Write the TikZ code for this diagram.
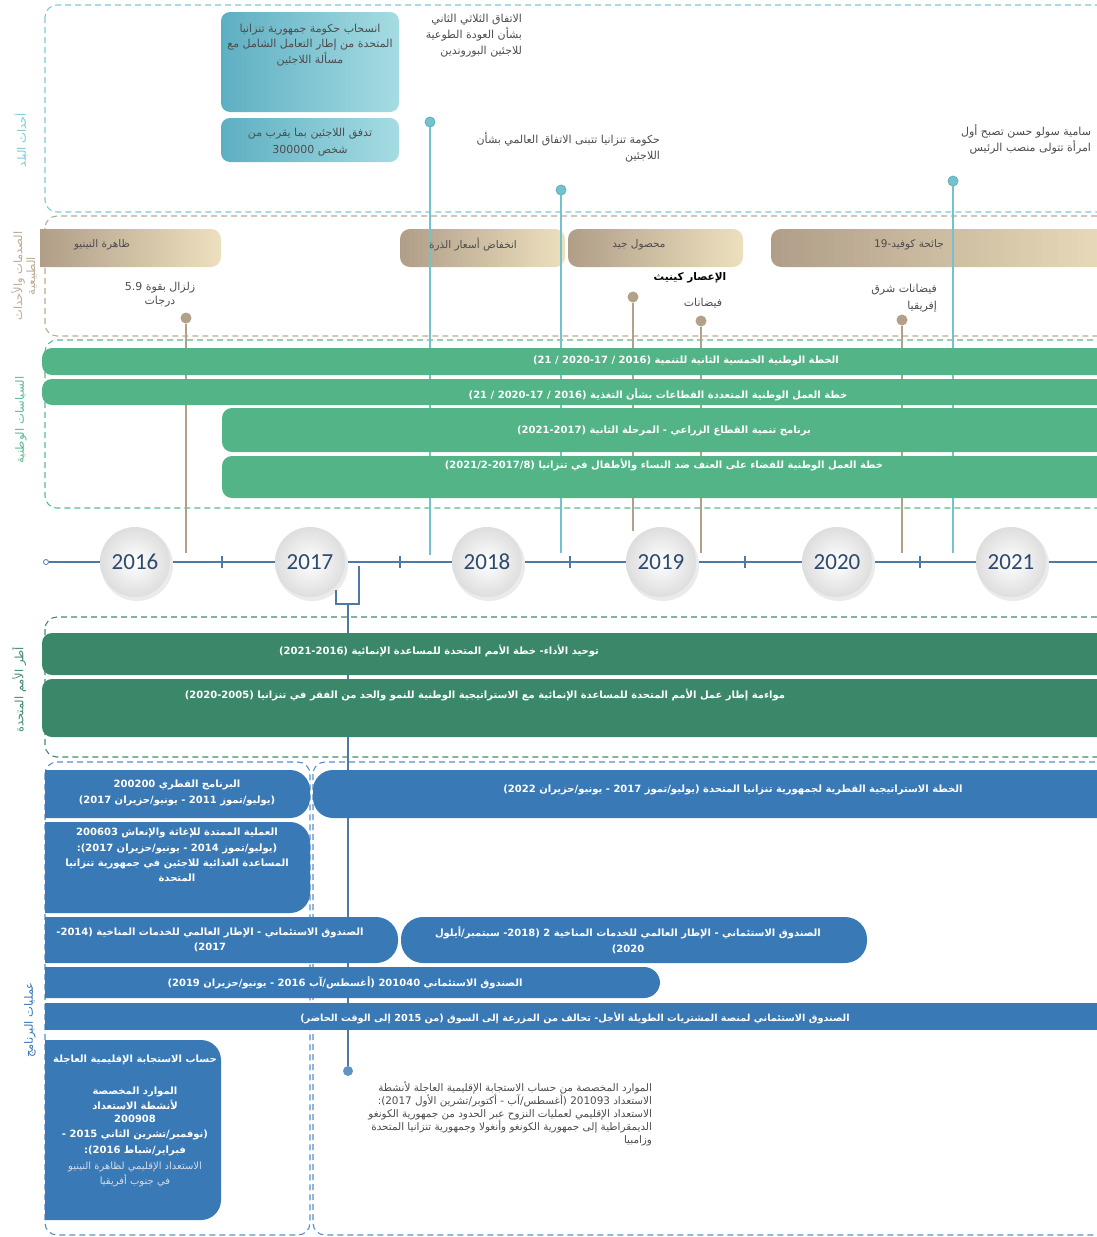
\documentclass[tikz,border=0pt]{standalone}
\usepackage{fontspec}
\TeXXeTstate=1
\newfontfamily\arf[Script=Arabic]{DejaVu Sans}
\newfontfamily\laf{DejaVu Sans}
\newfontfamily\yrf{Carlito}
\newcommand\AR[1]{{\arf\beginR #1\endR}}
\newcommand\LR[1]{\beginL{\laf #1}\endL{}}
\definecolor{tealF}{HTML}{7DCAD4}
\definecolor{tealL}{HTML}{74C2CE}
\definecolor{tealD}{HTML}{5FAEBF}
\definecolor{tealBoxL}{HTML}{5DAFC2}
\definecolor{tealBoxR}{HTML}{A6DCE3}
\definecolor{brF}{HTML}{BBAA95}
\definecolor{brL}{HTML}{B3A089}
\definecolor{brBarL}{HTML}{B09E88}
\definecolor{brBarR}{HTML}{EDE0BE}
\definecolor{grF}{HTML}{5CBB8E}
\definecolor{grB}{HTML}{52B487}
\definecolor{unF}{HTML}{3F8D6D}
\definecolor{unB}{HTML}{3B876A}
\definecolor{blF}{HTML}{5A8EC2}
\definecolor{blB}{HTML}{3979B6}
\definecolor{tl}{HTML}{4F79A4}
\definecolor{yr}{HTML}{2E4A6C}
\definecolor{txg}{HTML}{4D4D4D}
\definecolor{hlt}{HTML}{D3DCEA}
\tikzset{
  frame/.style={dashed, dash pattern=on 6pt off 4pt, line width=1.1pt, rounded corners=12pt},
  side/.style={rotate=90, font=\fontsize{11.5}{13}\selectfont, align=center},
  evt/.style={text=txg, font=\fontsize{11}{16}\selectfont},
  bartxt/.style={text=white, font=\bfseries\fontsize{10}{13}\selectfont},
  boxtxt/.style={text=white, font=\bfseries\fontsize{10}{15.5}\selectfont, align=center},
  shocktxt/.style={text=txg, font=\fontsize{10.5}{13}\selectfont},
  yearc/.style={circle, minimum size=70pt, inner color=white, outer color=black!13, text=yr, font=\yrf\fontsize{23}{23}\selectfont},
  tdot/.style={circle, minimum size=10pt, fill=tealL, draw=tealD, line width=0.8pt},
  bdot/.style={circle, minimum size=11pt, fill=brL},
  bludot/.style={circle, minimum size=10pt, fill=blB!80},
  vt/.style={tealL, line width=1.2pt},
  vb/.style={brL, line width=1.2pt},
  every node/.style={inner sep=0pt, outer sep=0pt}
}
\begin{document}
\begin{tikzpicture}[x=1pt,y=-1pt]
\useasboundingbox (0,0) rectangle (1097,1237);
\clip (0,0) rectangle (1097,1237);
\fill[white] (0,0) rectangle (1097,1237);

% ---------- frames ----------
\draw[frame, tealF] (45,5) rectangle (1125,212);
\draw[frame, brF] (45,216) rectangle (1125,336);
\draw[frame, grF] (45,340) rectangle (1125,508);
\draw[frame, unF] (45,617) rectangle (1125,757);
\draw[frame, blF] (45,762) rectangle (310,1235);
\draw[frame, blF] (313,762) rectangle (1125,1235);

% ---------- side labels ----------
\node[side, text=tealF] (lab1) at (21,140) {\AR{أحداث البلد}};
\node[side, text=brF] (lab2) at (24,276) {\AR{الصدمات والأحداث}\\\AR{الطبيعية}};
\node[side, text=grF] (lab3) at (21,420) {\AR{السياسات الوطنية}};
\node[side, text=unF] (lab4) at (19,690) {\AR{أطر الأمم المتحدة}};
\node[side, text=blB] (lab5) at (30,1020) {\AR{عمليات البرنامج}};

% ---------- country events ----------
\shade[left color=tealBoxL, right color=tealBoxR, rounded corners=9pt] (221,12) rectangle (399,112);
\shade[left color=tealBoxL, right color=tealBoxR, rounded corners=9pt] (221,118) rectangle (399,162);
\node[evt, align=center, font=\fontsize{11}{15.5}\selectfont] (t1) at (310,45) {\AR{انسحاب حكومة جمهورية تنزانيا}\\\AR{المتحدة من إطار التعامل الشامل مع}\\\AR{مسألة اللاجئين}};
\node[evt, align=center, font=\fontsize{11}{17}\selectfont] (t2) at (310,142) {\AR{تدفق اللاجئين بما يقرب من}\\\AR{شخص 300000}};
\node[evt, align=right, anchor=east] (e1) at (522,36) {\AR{الاتفاق الثلاثي الثاني}\\\AR{بشأن العودة الطوعية}\\\AR{للاجئين البوروندين}};
\node[evt, align=right, anchor=east] (e2) at (660,147) {\AR{حكومة تنزانيا تتبنى الاتفاق العالمي بشأن}\\\AR{اللاجئين}};
\node[evt, align=right, anchor=east] (e3) at (1091,139) {\AR{سامية سولو حسن تصبح أول}\\\AR{امرأة تتولى منصب الرئيس}};

% ---------- shocks bars ----------
\shade[left color=brBarL, right color=brBarR] (40,229) -- (190,229) [rounded corners=10pt] -- (221,229) -- (221,267) -- (190,267) [sharp corners] -- (40,267) -- cycle;
\shade[left color=brBarL, right color=brBarR, rounded corners=10pt] (400,229) rectangle (565,267);
\shade[left color=brBarL, right color=brBarR, rounded corners=10pt] (568,229) rectangle (743,267);
\shade[left color=brBarL, right color=brBarR, rounded corners=10pt] (771,229) rectangle (1140,267);

% ---------- coordinates on the timeline ----------
\coordinate (c186) at (186,553);
\coordinate (c430) at (430,555);
\coordinate (c561) at (561,553);
\coordinate (c633) at (633,531);
\coordinate (c701) at (701,553);
\coordinate (c902) at (902,553);
\coordinate (c953) at (953,553);

% ---------- event dots and stems ----------
\node[tdot] (d430) at (430,122) {};
\node[tdot] (d561) at (561,190) {};
\node[tdot] (d953) at (953,181) {};
\node[bdot] (d186) at (186,318) {};
\node[bdot] (d633) at (633,297) {};
\node[bdot] (d701) at (701,321) {};
\node[bdot] (d902) at (902,320) {};
\draw[vt] (d430) -- (c430);
\draw[vt] (d561) -- (c561);
\draw[vt] (d953) -- (c953);
\draw[vb] (d186) -- (c186);
\draw[vb] (d633) -- (c633);
\draw[vb] (d701) -- (c701);
\draw[vb] (d902) -- (c902);

% shock texts
\node[shocktxt] (s1) at (102,245) {\AR{ظاهرة النينيو}};
\node[shocktxt] (s2) at (473,245) {\AR{انخفاض أسعار الذرة}};
\node[shocktxt] (s3) at (639,245) {\AR{محصول جيد}};
\node[shocktxt] (s4) at (909,245) {\AR{جائحة كوفيد-19}};
\node[evt, align=center, font=\fontsize{11}{14}\selectfont] (s5) at (160,295) {\AR{زلزال بقوة 5.9}\\\AR{درجات}};
\node[evt, text=black, font=\bfseries\fontsize{10.5}{13}\selectfont] (s6) at (690,278) {\AR{الإعصار كينيث}};
\node[evt] (s7) at (703,303) {\AR{فيضانات}};
\node[evt, align=right, anchor=east, font=\fontsize{11}{17}\selectfont] (s8) at (937,298) {\AR{فيضانات شرق}\\\AR{إفريقيا}};

% ---------- national policies ----------
\fill[grB, rounded corners=10pt] (42,348) rectangle (1140,375);
\fill[grB, rounded corners=10pt] (42,379) rectangle (1140,405);
\fill[grB, rounded corners=10pt] (222,408) rectangle (1140,452);
\fill[grB, rounded corners=10pt] (222,456) rectangle (1140,498);
\node[bartxt] (p1) at (686,361) {\AR{الخطة الوطنية الخمسية الثانية للتنمية \LR{(21 / 2020-17 / 2016)}}};
\node[bartxt] (p2) at (658,395) {\AR{خطة العمل الوطنية المتعددة القطاعات بشأن التغذية \LR{(21 / 2020-17 / 2016)}}};
\node[bartxt] (p3) at (664,431) {\AR{برنامج تنمية القطاع الزراعي - المرحلة الثانية \LR{(2021-2017)}}};
\node[bartxt] (p4) at (664,465) {\AR{خطة العمل الوطنية للقضاء على العنف ضد النساء والأطفال في تنزانيا \LR{(2021/2-2017/8)}}};

% ---------- timeline ----------
\node[circle, draw=tl, fill=white, minimum size=5pt, line width=0.8pt] (t0) at (46,562) {};
\coordinate (tend) at (1110,562);
\draw[tl, line width=1.2pt] (t0) -- (tend);
\foreach \x in {222,400,570,745,920} \draw[tl, line width=1.2pt] (\x,556) -- (\x,568);
\foreach \x/\y in {135/2016,310/2017,487/2018,661/2019,837/2020,1011/2021}{
  \fill[black!8] (\x+2,565) circle (36pt);
  \node[yearc] (y\y) at (\x,562) {\y};
}

% bracket under 2017 and link down
\coordinate (b1) at (359,566);
\coordinate (b2) at (359,604);
\coordinate (b3) at (336,604);
\coordinate (b4) at (336,590);
\coordinate (b5) at (348,604);
\draw[tl, line width=1.1pt] (b1) -- (b2) -- (b3) -- (b4);
\node[bludot] (d348) at (348,1071) {};
\draw[tl, line width=1.1pt] (b5) -- (d348);

% ---------- UN frameworks ----------
\fill[unB, rounded corners=10pt] (42,633) rectangle (1140,675);
\fill[unB, rounded corners=10pt] (42,679) rectangle (1140,737);
\node[bartxt] (u1) at (439,651) {\AR{توحيد الأداء- خطة الأمم المتحدة للمساعدة الإنمائية \LR{(2021-2016)}}};
\node[bartxt] (u2) at (485,695) {\AR{مواءمة إطار عمل الأمم المتحدة للمساعدة الإنمائية مع الاستراتيجية الوطنية للنمو والحد من الفقر في تنزانيا \LR{(2020-2005)}}};

% ---------- programme operations ----------
% A
\fill[blB] (45,770) -- (250,770) [rounded corners=20pt] -- (310,770) -- (310,818) -- (250,818) [sharp corners] -- (45,818) -- cycle;
% B
\fill[blB] (1140,770) -- (400,770) [rounded corners=20pt] -- (313,770) -- (313,818) -- (400,818) [sharp corners] -- (1140,818) -- cycle;
% C
\fill[blB] (45,822) -- (250,822) [rounded corners=20pt] -- (310,822) -- (310,913) -- (250,913) [sharp corners] -- (45,913) -- cycle;
% D
\fill[blB] (45,917) -- (330,917) [rounded corners=22pt] -- (398,917) -- (398,963) -- (330,963) [sharp corners] -- (45,963) -- cycle;
% E
\fill[blB, rounded corners=22pt] (401,917) rectangle (867,963);
% F
\fill[blB] (45,967) -- (600,967) [rounded corners=16pt] -- (660,967) -- (660,998) -- (600,998) [sharp corners] -- (45,998) -- cycle;
% G
\fill[blB] (45,1003) rectangle (1140,1030);
% H
\fill[blB] (45,1040) -- (150,1040) [rounded corners=20pt] -- (221,1040) -- (221,1220) -- (150,1220) [sharp corners] -- (45,1220) -- cycle;

\node[boxtxt] (oa) at (177,793) {\AR{البرنامج القطري 200200}\\\AR{(يوليو/تموز 2011 - يونيو/حزيران \LR{(2017}}};
\node[bartxt] (ob) at (733,790) {\AR{الخطة الاستراتيجية القطرية لجمهورية تنزانيا المتحدة (يوليو/تموز 2017 - يونيو/حزيران \LR{(2022}}};
\node[boxtxt, font=\bfseries\fontsize{10}{15.3}\selectfont] (oc) at (177,855) {\AR{العملية الممتدة للإغاثة والإنعاش 200603}\\\AR{(يوليو/تموز 2014 - يونيو/حزيران \LR{:(2017}}\\\AR{المساعدة الغذائية للاجئين في جمهورية تنزانيا}\\\AR{المتحدة}};
\node[boxtxt] (od) at (210,940) {\AR{الصندوق الاستئماني - الإطار العالمي للخدمات المناخية \LR{-2014)}}\\\AR{\LR{(2017}}};
\node[boxtxt] (oe) at (628,940) {\AR{الصندوق الاستئماني - الإطار العالمي للخدمات المناخية 2 \LR{-2018)} سبتمبر/أيلول}\\\AR{\LR{(2020}}};
\node[bartxt] (of) at (345,983) {\AR{الصندوق الاستئماني 201040 (أغسطس/آب 2016 - يونيو/حزيران \LR{(2019}}};
\node[bartxt, font=\bfseries\fontsize{9.7}{13}\selectfont] (og) at (575,1018) {\AR{الصندوق الاستئماني لمنصة المشتريات الطويلة الأجل- تحالف من المزرعة إلى السوق (من 2015 إلى الوقت الحاضر)}};
\node[boxtxt] (oh1) at (135,1060) {\AR{حساب الاستجابة الإقليمية العاجلة}};
\node[boxtxt, font=\bfseries\fontsize{10}{15.5}\selectfont] (oh2) at (135,1121) {\AR{الموارد المخصصة}\\\AR{لأنشطة الاستعداد}\\[-3pt]\AR{200908}\\\AR{(نوفمبر/تشرين الثاني 2015 -}\\\AR{فبراير/شباط \LR{:(2016}}};
\node[boxtxt, text=hlt, font=\fontsize{10}{15}\selectfont] (oh3) at (135,1174) {\AR{الاستعداد الإقليمي لظاهرة النينيو}\\\AR{في جنوب أفريقيا}};
\node[evt, align=right, anchor=east, font=\fontsize{10.4}{13}\selectfont] (oi) at (652,1114) {\AR{الموارد المخصصة من حساب الاستجابة الإقليمية العاجلة لأنشطة}\\\AR{الاستعداد 201093 (أغسطس/آب - أكتوبر/تشرين الأول \LR{:(2017}}\\\AR{الاستعداد الإقليمي لعمليات النزوح عبر الحدود من جمهورية الكونغو}\\\AR{الديمقراطية إلى جمهورية الكونغو وأنغولا وجمهورية تنزانيا المتحدة}\\\AR{وزامبيا}};
\end{tikzpicture}
\end{document}
